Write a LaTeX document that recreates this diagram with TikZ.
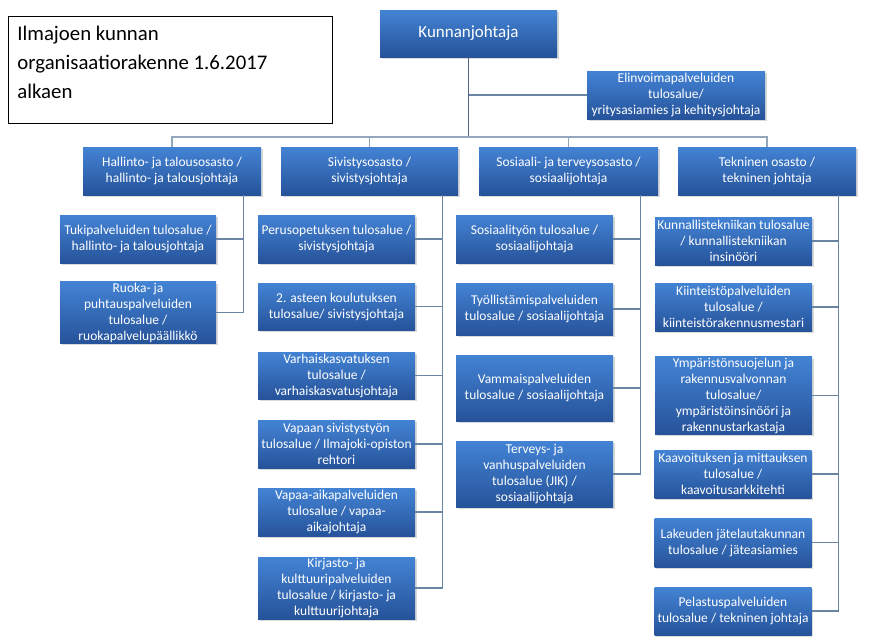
\documentclass[tikz,border=0pt]{standalone}
\usepackage{fontspec}
\setmainfont{Carlito}
\usepackage{tikz}
\definecolor{ORGtop}{HTML}{4383D4}
\definecolor{ORGbottom}{HTML}{26539A}
\definecolor{ORGline}{HTML}{6A85A4}
\definecolor{ORGbus}{HTML}{93A6BD}
\definecolor{ORGtrunk}{HTML}{4E6785}
\usetikzlibrary{shadows}

\begin{document}
\begin{tikzpicture}[x=1pt,y=-1pt,
    orgbox/.style={rectangle,top color=ORGtop,bottom color=ORGbottom,text=white,align=center,
      inner sep=1pt,font=\fontsize{13.5}{16}\selectfont,
      drop shadow={shadow xshift=1.5pt,shadow yshift=-2pt,opacity=0.3}},
    unitbox/.style={orgbox,minimum width=157pt,minimum height=48pt},
    deptbox/.style={orgbox,minimum width=178pt,minimum height=48pt},
    branch/.style={draw=ORGline,line width=1.2pt},
    busline/.style={draw=ORGbus,line width=1.4pt},
    trunk/.style={draw=ORGtrunk,line width=1.8pt}]
  \useasboundingbox (0,0) rectangle (880,643);

  % otsikko
  \node[draw=black,line width=0.8pt,anchor=north west,inner xsep=9pt,inner ysep=10pt]
    (title) at (8,16) {\parbox[c][87pt][t]{306pt}{\fontsize{20.8}{29}\selectfont
      Ilmajoen kunnan\\organisaatiorakenne 1.6.2017\\alkaen}};

  % johto
  \node[orgbox,minimum width=177pt,minimum height=47pt,font=\fontsize{17}{20}\selectfont]
    (kj) at (468.5,33.5) {Kunnanjohtaja};
  \node[deptbox] (elin) at (676,95) {Elinvoimapalveluiden\\tulosalue/\\yritysasiamies ja kehitysjohtaja};

  % osastot
  \node[deptbox] (hal) at (172,171) {Hallinto- ja talousosasto /\\hallinto- ja talousjohtaja};
  \node[deptbox,minimum width=177pt] (siv) at (369.5,171) {Sivistysosasto /\\sivistysjohtaja};
  \node[deptbox,minimum width=179pt] (sos) at (568.5,171) {Sosiaali- ja terveysosasto /\\sosiaalijohtaja};
  \node[deptbox] (tek) at (767,171) {Tekninen osasto /\\tekninen johtaja};

  % hallinto
  \node[unitbox,minimum width=156pt] (tuki) at (138,239) {Tukipalveluiden tulosalue /\\hallinto- ja talousjohtaja};
  \node[unitbox,minimum width=156pt,minimum height=59pt] (ruoka) at (138,312.5) {Ruoka- ja\\puhtauspalveluiden\\tulosalue /\\ruokapalvelupäällikkö};

  % sivistys
  \node[unitbox] (peru) at (336.5,239) {Perusopetuksen tulosalue /\\sivistysjohtaja};
  \node[unitbox,minimum height=47pt] (aste) at (336.5,306.5) {2. asteen koulutuksen\\tulosalue/ sivistysjohtaja};
  \node[unitbox,minimum height=47pt] (varh) at (336.5,375.5) {Varhaiskasvatuksen\\tulosalue /\\varhaiskasvatusjohtaja};
  \node[unitbox] (vapaan) at (336.5,444) {Vapaan sivistystyön\\tulosalue / Ilmajoki-opiston\\rehtori};
  \node[unitbox] (vapaa) at (336.5,512) {Vapaa-aikapalveluiden\\tulosalue / vapaa-\\aikajohtaja};
  \node[unitbox,minimum height=62pt] (kirj) at (336.5,588) {Kirjasto- ja\\kulttuuripalveluiden\\tulosalue / kirjasto- ja\\kulttuurijohtaja};

  % sosiaali
  \node[unitbox] (sostyo) at (534.5,239) {Sosiaalityön tulosalue /\\sosiaalijohtaja};
  \node[unitbox,minimum height=52pt] (tyoll) at (534.5,309) {Työllistämispalveluiden\\tulosalue / sosiaalijohtaja};
  \node[unitbox,minimum height=66pt] (vamm) at (534.5,388) {Vammaispalveluiden\\tulosalue / sosiaalijohtaja};
  \node[unitbox,minimum height=66pt] (terv) at (534.5,474) {Terveys- ja\\vanhuspalveluiden\\tulosalue (JIK) /\\sosiaalijohtaja};

  % tekninen
  \node[unitbox] (kunn) at (733.5,241) {Kunnallistekniikan tulosalue\\/ kunnallistekniikan\\insinööri};
  \node[unitbox] (kiint) at (733.5,307) {Kiinteistöpalveluiden\\tulosalue /\\kiinteistörakennusmestari};
  \node[unitbox,minimum height=77pt] (ymp) at (733.5,395.5) {Ympäristönsuojelun ja\\rakennusvalvonnan\\tulosalue/\\ympäristöinsinööri ja\\rakennustarkastaja};
  \node[unitbox] (kaav) at (733,474) {Kaavoituksen ja mittauksen\\tulosalue /\\kaavoitusarkkitehti};
  \node[unitbox,minimum height=49pt] (lak) at (733,542.5) {Lakeuden jätelautakunnan\\tulosalue / jäteasiamies};
  \node[unitbox] (pel) at (733,611) {Pelastuspalveluiden\\tulosalue / tekninen johtaja};

  % yhteydet
  \coordinate (bus) at (470,137);
  \draw[trunk] (kj.south) -- (kj.south |- bus);
  \draw[branch] (kj.south |- elin.west) -- (elin.west);
  \draw[busline] (hal.north) -- (hal.north |- bus) -- (tek.north |- bus) -- (tek.north);
  \draw[busline] (siv.north) -- (siv.north |- bus);
  \draw[busline] (sos.north) -- (sos.north |- bus);

  \coordinate (halv) at ([xshift=-18pt]hal.south east);
  \coordinate (sivv) at ([xshift=-16pt]siv.south east);
  \coordinate (sosv) at ([xshift=-18pt]sos.south east);
  \coordinate (tekv) at ([xshift=-18pt]tek.south east);
  \foreach \u in {tuki,ruoka} \draw[branch] (halv) |- (\u.east);
  \foreach \u in {peru,aste,varh,vapaan,vapaa,kirj} \draw[branch] (sivv) |- (\u.east);
  \foreach \u in {sostyo,tyoll,vamm,terv} \draw[branch] (sosv) |- (\u.east);
  \foreach \u in {kunn,kiint,ymp,kaav,lak,pel} \draw[branch] (tekv) |- (\u.east);
\end{tikzpicture}
\end{document}
